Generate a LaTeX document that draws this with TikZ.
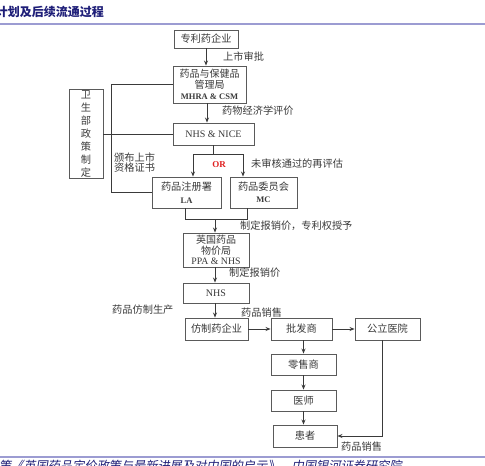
\documentclass[tikz,border=0pt]{standalone}
\usepackage{fontspec}
\setmainfont{Liberation Serif}
\newfontfamily\cjk{Noto Sans CJK SC}
\newfontfamily\cjksl[FakeSlant=0.18]{Noto Sans CJK SC}
\usetikzlibrary{arrows.meta}
\definecolor{boxgray}{HTML}{5A5A5A}
\definecolor{txtgray}{HTML}{3A3A3A}
\definecolor{navy}{HTML}{1E1E78}
\definecolor{lav}{HTML}{9C9CD2}
\definecolor{orred}{HTML}{E02020}
\begin{document}
\begin{tikzpicture}[x=1pt,y=-1pt,
  box/.style={draw=boxgray,line width=0.9pt,fill=white,inner sep=0pt,align=center,
    text=txtgray,font=\cjk\fontsize{10.2}{11.5}\selectfont},
  lbl/.style={inner sep=0pt,anchor=west,text=txtgray,align=left,
    font=\cjk\fontsize{10.2}{10.5}\selectfont},
  conn/.style={draw=txtgray,line width=0.8pt},
  arr/.style={conn,-{Stealth[length=5pt,width=4pt]}},
  lat/.style={font=\rmfamily\fontsize{9.5}{10}\selectfont}]
\useasboundingbox (0,0) rectangle (485,466);
\clip (0,0) rectangle (485,466);
\fill[white] (0,0) rectangle (485,466);

% header and footer
\node[anchor=east,inner sep=0pt,text=navy,font=\cjk\bfseries\fontsize{12}{12}\selectfont] (title) at (104,12) {计划及后续流通过程};
\draw[lav,line width=1.4pt] (0,24) -- (485,24);
\draw[lav,line width=1.4pt] (0,457) -- (485,457);
\node[anchor=north west,inner sep=0pt,text=navy,font=\cjksl\fontsize{12.2}{12}\selectfont] (src) at (-1,459.5) {策《英国药品定价政策与最新进展及对中国的启示》，中国银河证券研究院};

% boxes
\node[box,minimum width=64pt,minimum height=18pt] (zl) at (206,39) {专利药企业};
\node[box,minimum width=73pt,minimum height=37pt,font=\cjk\fontsize{10}{10.8}\selectfont] (mh) at (209.5,84.5) {药品与保健品\\管理局\\{\rmfamily\bfseries\fontsize{8.5}{10}\selectfont MHRA \& CSM}};
\node[box,minimum width=81pt,minimum height=22pt] (nice) at (213.5,134) {{\rmfamily\fontsize{10}{10}\selectfont NHS \& NICE}};
\node[box,minimum width=69pt,minimum height=31pt] (la) at (186.5,192.5) {药品注册署\\[1pt]{\rmfamily\bfseries\fontsize{8.5}{10}\selectfont LA}};
\node[box,minimum width=67pt,minimum height=31pt] (mc) at (263.5,192.5) {药品委员会\\[1pt]{\rmfamily\bfseries\fontsize{8.5}{10}\selectfont MC}};
\node[box,minimum width=66pt,minimum height=34pt,font=\cjk\fontsize{10}{10.3}\selectfont] (ppa) at (216,250) {英国药品\\物价局\\{\rmfamily\fontsize{9.8}{10}\selectfont PPA \& NHS}};
\node[box,minimum width=66pt,minimum height=20pt] (nhs) at (216,293) {{\rmfamily\fontsize{10}{10}\selectfont NHS}};
\node[box,minimum width=63pt,minimum height=22pt] (fz) at (216.5,329) {仿制药企业};
\node[box,minimum width=61pt,minimum height=22pt] (pf) at (301.5,329) {批发商};
\node[box,minimum width=65pt,minimum height=22pt] (gl) at (387.5,329) {公立医院};
\node[box,minimum width=65pt,minimum height=21pt] (ls) at (303.5,364.5) {零售商};
\node[box,minimum width=65pt,minimum height=21pt] (ys) at (303.5,400.5) {医师};
\node[box,minimum width=64pt,minimum height=22pt] (hz) at (305,436) {患者};
\node[box,minimum width=34pt,minimum height=89pt,font=\cjk\fontsize{10.2}{13}\selectfont] (ws) at (86,134) {卫\\生\\部\\政\\策\\制\\定};

% connectors
\draw[arr] (zl.south) -- (zl.south |- mh.north);
\draw[arr] ([xshift=-2.5pt]mh.south) -- ([xshift=-2.5pt]mh.south |- nice.north);
\draw[conn] (nice.south) -- ++(0,9) coordinate (br);
\draw[arr] (br) -| ([xshift=6.5pt]la.north);
\draw[arr] (br) -| ([xshift=-20.5pt]mc.north);
\draw[conn] ([xshift=-1.5pt]la.south) -- ++(0,11) -| ([xshift=-16.5pt]mc.south);
\coordinate (j1) at (215,219);
\draw[arr] (j1) -- (j1 |- ppa.north);
\draw[arr] ([xshift=-1pt]ppa.south) -- ([xshift=-1pt]nhs.north);
\draw[arr] ([xshift=-1pt]nhs.south) -- ([xshift=-1.5pt]fz.north);
\draw[arr] (fz.east) -- (pf.west);
\draw[arr] (pf.east) -- (gl.west);
\draw[arr] ([xshift=2pt]pf.south) -- ([xshift=2pt]pf.south |- ls.north);
\draw[arr] (ls.south) -- (ys.north);
\draw[arr] (ys.south) -- (ys.south |- hz.north);
\draw[arr] ([xshift=-5.5pt]gl.south) |- (hz.east);
\draw[conn] (ws.east) -- (nice.west);
\coordinate (vx) at (111,0);
\draw[conn] (mh.west) -| (vx |- la.west) -- (la.west);

% labels
\node[lbl] (l1) at (223,57) {上市审批};
\node[lbl] (l2) at (222,111) {药物经济学评价};
\node[inner sep=0pt,text=orred,font=\rmfamily\bfseries\fontsize{9}{10}\selectfont] (or) at (219,165) {OR};
\node[lbl] (l3) at (251,164) {未审核通过的再评估};
\node[lbl,font=\cjk\fontsize{10.2}{10}\selectfont] (l4) at (114,162.5) {颁布上市\\资格证书};
\node[lbl] (l5) at (240,226) {制定报销价，专利权授予};
\node[lbl] (l6) at (229,273) {制定报销价};
\node[lbl] (l7) at (112,310) {药品仿制生产};
\node[lbl] (l8) at (241,313) {药品销售};
\node[lbl] (l9) at (341,447) {药品销售};
\end{tikzpicture}
\end{document}
